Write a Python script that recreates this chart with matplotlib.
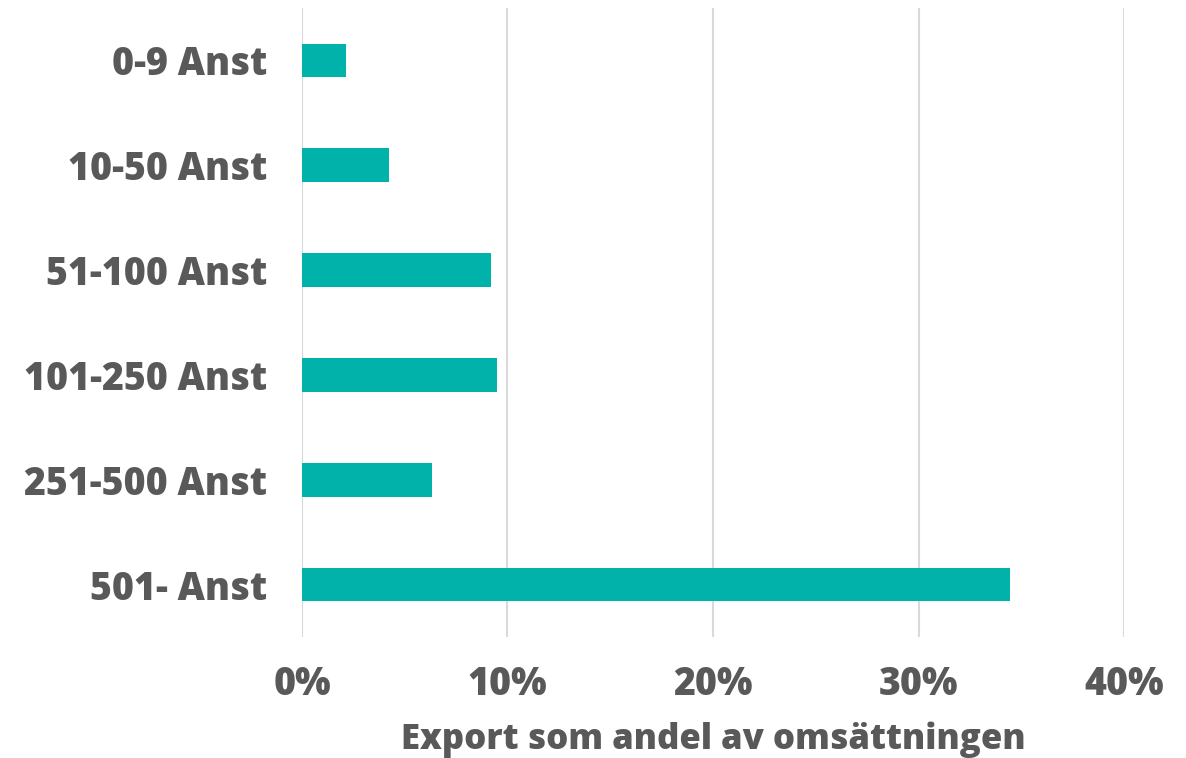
import matplotlib
matplotlib.use("Agg")
import matplotlib.pyplot as plt
from matplotlib.ticker import FuncFormatter

categories = ["0-9 Anst", "10-50 Anst", "51-100 Anst", "101-250 Anst", "251-500 Anst", "501- Anst"]
values = [2.15, 4.25, 9.2, 9.5, 6.35, 34.45]
xticks = [0, 10, 20, 30, 40]
xlabel = "Export som andel av omsättningen"

text_color = "#595959"
bar_color = "#00B2A9"
grid_color = "#D9D9D9"

plt.rcParams['font.family'] = ['Open Sans', 'DejaVu Sans']

fig = plt.figure(figsize=(11.86, 7.58), dpi=100)
ax = fig.add_axes([302/1186, 1-637/758, (1124-302)/1186, (637-8)/758])

y = list(range(len(categories)))
ax.barh(y, values, height=0.32, color=bar_color, zorder=3)
ax.set_yticks(y)
ax.set_yticklabels(categories)
ax.set_ylim(len(categories)-0.5, -0.5)
ax.set_xlim(0, 40)
ax.set_xticks(xticks)
ax.xaxis.set_major_formatter(FuncFormatter(lambda v, p: f"{int(v)}%"))
ax.grid(axis='x', color=grid_color, linewidth=1.5, zorder=0)
for s in ax.spines.values():
    s.set_visible(False)
ax.tick_params(axis='both', length=0, labelsize=27, labelcolor=text_color)
ax.tick_params(axis='y', pad=25)
ax.tick_params(axis='x', pad=20)
for lab in ax.get_xticklabels() + ax.get_yticklabels():
    lab.set_fontweight('heavy')
ax.set_xlabel(xlabel, fontsize=25, color=text_color, fontweight='heavy', labelpad=13)

fig.savefig("out.png", dpi=100)
